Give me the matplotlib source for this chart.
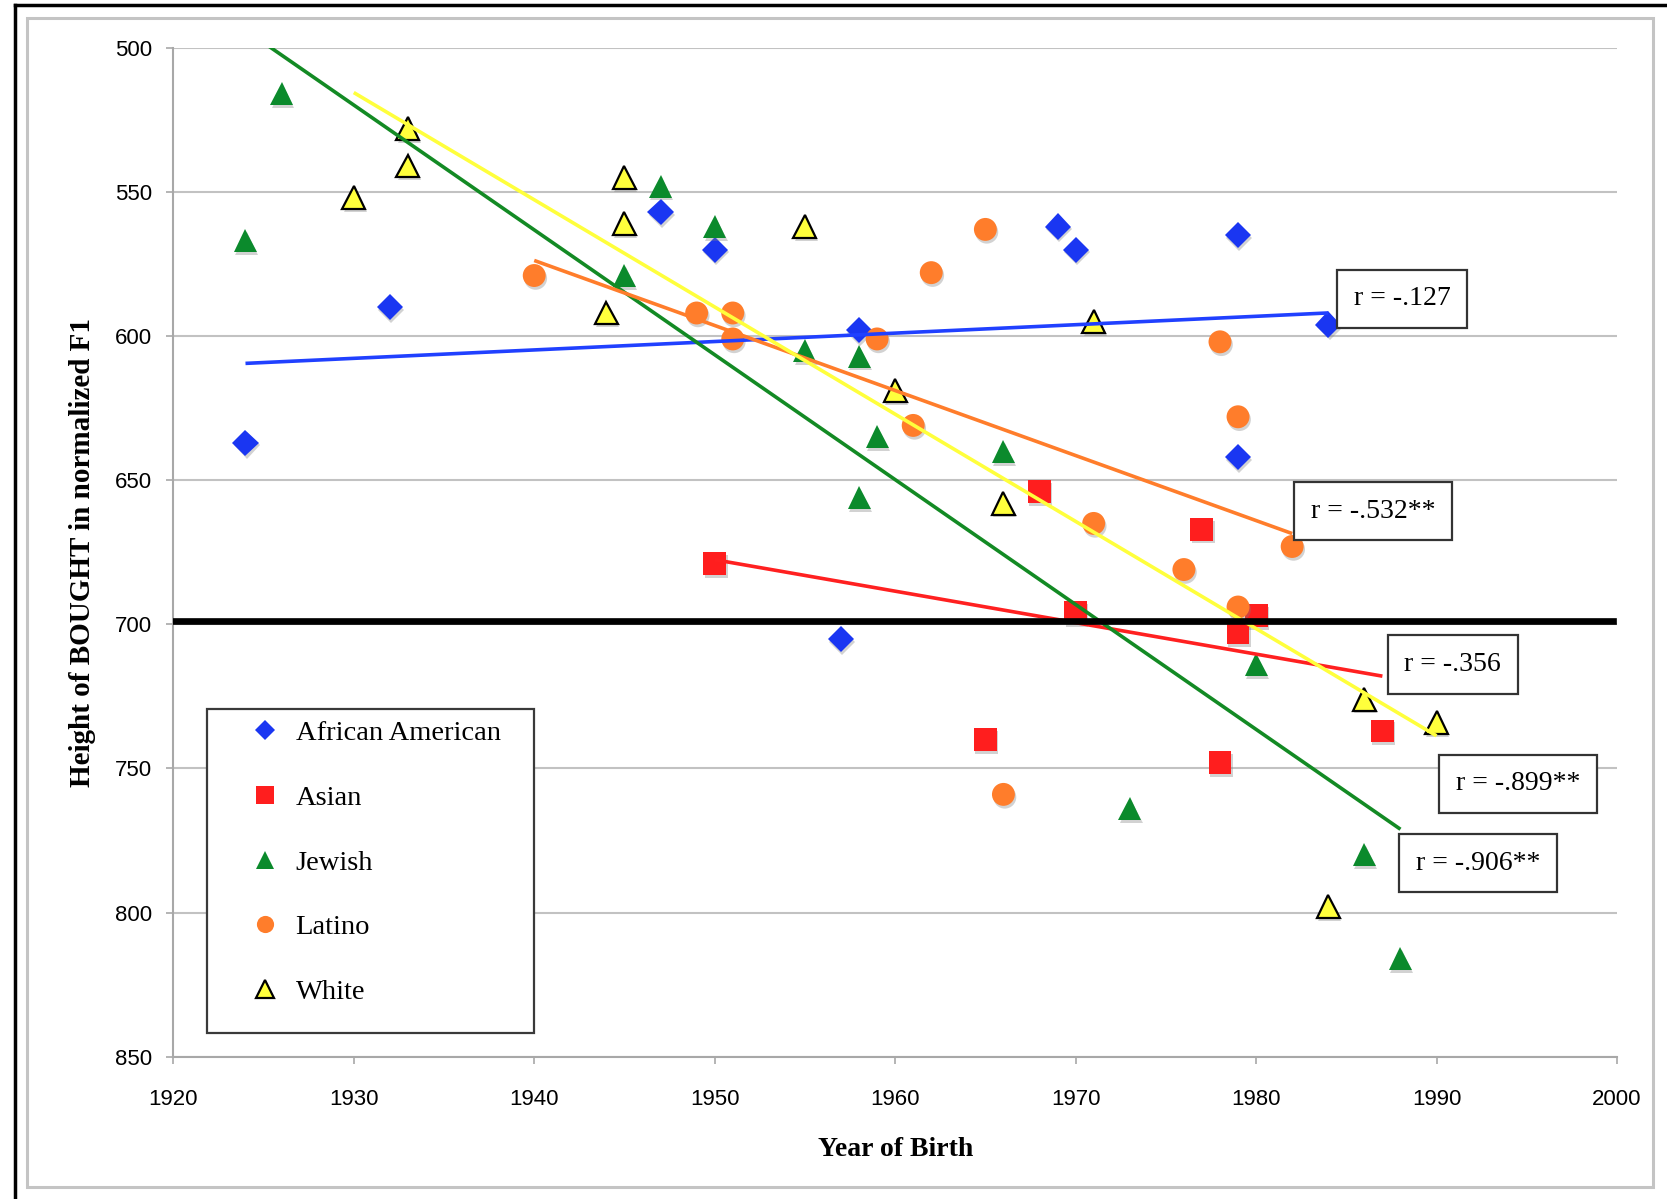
import matplotlib
matplotlib.use("Agg")
import matplotlib.pyplot as plt
import numpy as np
from matplotlib.patches import Rectangle
from matplotlib.lines import Line2D
import matplotlib.patheffects as pe

# ---------------- data ----------------
groups = ["African American", "Asian", "Jewish", "Latino", "White"]

aa_year = [1924, 1932, 1947, 1950, 1957, 1958, 1969, 1970, 1979, 1979, 1984]
aa_f1 = [637, 590, 557, 570, 705, 598, 562, 570, 565, 642, 596]

as_year = [1950, 1965, 1968, 1970, 1977, 1978, 1979, 1980, 1987]
as_f1 = [679, 740, 654, 696, 667, 748, 703, 697, 737]

je_year = [1924, 1926, 1945, 1947, 1950, 1955, 1958, 1958, 1959, 1966, 1973, 1980, 1986, 1988]
je_f1 = [567, 516, 579, 548, 562, 605, 607, 656, 635, 640, 764, 714, 780, 816]

la_year = [1940, 1949, 1951, 1951, 1959, 1961, 1962, 1965, 1966, 1971, 1976, 1978, 1979, 1979, 1982]
la_f1 = [579, 592, 592, 601, 601, 631, 578, 563, 759, 665, 681, 602, 628, 694, 673]

wh_year = [1930, 1933, 1933, 1944, 1945, 1945, 1955, 1960, 1966, 1971, 1984, 1986, 1990]
wh_f1 = [552, 528, 541, 592, 545, 561, 562, 619, 658, 595, 798, 726, 734]

r_labels = ["r = -.127", "r = -.356", "r = -.906**", "r = -.532**", "r = -.899**"]
r_label_x = [1988.1, 1990.9, 1992.3, 1986.5, 1994.5]
r_label_y = [587.1, 713.9, 782.9, 660.8, 755.3]

reference_f1 = 699

x_ticks = [1920, 1930, 1940, 1950, 1960, 1970, 1980, 1990, 2000]
y_ticks = [500, 550, 600, 650, 700, 750, 800, 850]

# ---------------- styles ----------------
series = [
    (aa_year, aa_f1, "D", 13.3, "#1a36f2", "#1a36f2", "#2040ff"),
    (as_year, as_f1, "s", 16.5, "#ff1e1e", "#ff1e1e", "#ff2020"),
    (je_year, je_f1, "^", 16.5, "#0b8a2c", "#0b8a2c", "#138a24"),
    (la_year, la_f1, "o", 16.5, "#ff7d2b", "#ff7d2b", "#ff7d2b"),
    (wh_year, wh_f1, "^", 16.5, "#ffff3c", "black", "#ffff3c"),
]

W, H = 1667, 1199
fig = plt.figure(figsize=(W / 100, H / 100), dpi=100)
fig.patch.set_facecolor("white")

# outer frame decoration
fig.add_artist(Line2D([15 / W, 15 / W], [0, 1 - 5 / H], transform=fig.transFigure,
                      color="black", lw=2.5))
fig.add_artist(Line2D([15 / W, 1], [1 - 5 / H, 1 - 5 / H], transform=fig.transFigure,
                      color="black", lw=2.5))
fig.add_artist(Rectangle((27 / W, 1 - 1187 / H), (1653 - 27) / W, (1187 - 18) / H,
                         transform=fig.transFigure, fill=False, ec="#c4c4c4", lw=2.2))

ax = fig.add_axes([173.3 / W, (H - 1056.7) / H, (1617 - 173.3) / W, (1056.7 - 47.8) / H])
ax.set_facecolor("white")

shadow = [pe.SimplePatchShadow(offset=(1.0, -2.0), shadow_rgbFace="#808080", alpha=0.35),
          pe.Normal()]

handles = []
for (xs, ys, mk, ms, fc, ec, lc), name in zip(series, groups):
    h, = ax.plot(xs, ys, linestyle="none", marker=mk, markersize=ms,
                 markerfacecolor=fc, markeredgecolor=ec,
                 markeredgewidth=1.6 if ec == "black" else 0.0,
                 zorder=3, path_effects=shadow)
    handles.append(h)
    coef = np.polyfit(xs, ys, 1)
    xx = np.array([min(xs), max(xs)])
    ax.plot(xx, np.polyval(coef, xx), color=lc, lw=2.6, zorder=4,
            solid_capstyle="butt")

ax.axhline(reference_f1, xmin=0, xmax=0.997, color="black", lw=4.8, zorder=5)

ax.set_xlim(1920, 2000)
ax.set_ylim(850, 500)
ax.set_xticks(x_ticks)
ax.set_yticks(y_ticks)
ax.set_xticklabels([str(t) for t in x_ticks], family="Liberation Sans", fontsize=16)
ax.set_yticklabels([str(t) for t in y_ticks], family="Liberation Sans", fontsize=16)
ax.yaxis.grid(True, color="#c2c2c2", lw=1.5, zorder=0)
ax.set_axisbelow(True)
for s in ["top", "right"]:
    ax.spines[s].set_visible(False)
for s in ["left", "bottom"]:
    ax.spines[s].set_color("#a8a8a8")
    ax.spines[s].set_linewidth(1.5)
ax.tick_params(axis="both", direction="out", length=5, width=1.2, color="#a8a8a8",
               labelcolor="black")
ax.tick_params(axis="x", pad=18)
ax.tick_params(axis="y", pad=10)

ax.set_xlabel("Year of Birth", family="Liberation Serif", fontweight="bold", fontsize=20)
ax.set_ylabel("Height of BOUGHT in normalized F1", family="Liberation Serif",
              fontweight="bold", fontsize=21)
ax.xaxis.set_label_coords(0.5, -0.0915)
ax.xaxis.label.set_va("center")
ax.yaxis.set_label_coords(-0.0626, 0.5)
ax.yaxis.label.set_va("center")
ax.yaxis.label.set_ha("center")

# legend box + legend
ax.add_patch(Rectangle((0.0236, 0.0231), 0.226, 0.3215, transform=ax.transAxes,
                       fc="white", ec="#3a3a3a", lw=1.6, zorder=6))
leg = ax.legend(handles, groups, loc="upper left", bbox_to_anchor=(0.0537, 0.3334),
                frameon=False, borderpad=0, borderaxespad=0, handlelength=1.0,
                handletextpad=0.57, labelspacing=1.36, markerscale=0.75,
                prop={"family": "Liberation Serif", "size": 20.5})
leg.set_zorder(7)
for lh in leg.legend_handles:
    lh.set_path_effects([])

for s, x, y in zip(r_labels, r_label_x, r_label_y):
    ax.text(x, y, s, ha="center", va="center", family="Liberation Serif", fontsize=20,
            zorder=8, clip_on=False,
            bbox=dict(boxstyle="square,pad=0.6", fc="white", ec="#333333", lw=1.6))

fig.savefig("out.png", dpi=100, facecolor="white")
